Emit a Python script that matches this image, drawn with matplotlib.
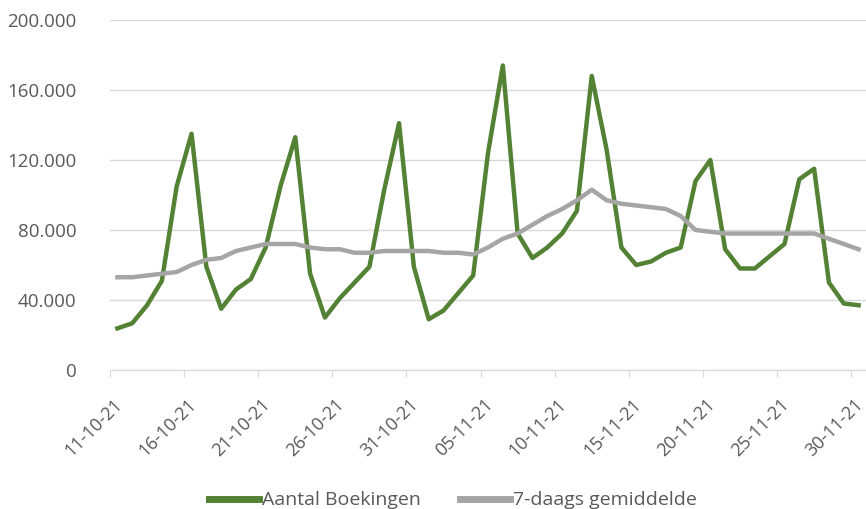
import matplotlib
matplotlib.use('Agg')
import matplotlib.pyplot as plt
from matplotlib.transforms import ScaledTranslation
import numpy as np

# Data: daily bookings 11-10-21 .. 30-11-21
dates = ['11-10-21', '12-10-21', '13-10-21', '14-10-21', '15-10-21', '16-10-21', '17-10-21',
         '18-10-21', '19-10-21', '20-10-21', '21-10-21', '22-10-21', '23-10-21', '24-10-21',
         '25-10-21', '26-10-21', '27-10-21', '28-10-21', '29-10-21', '30-10-21', '31-10-21',
         '01-11-21', '02-11-21', '03-11-21', '04-11-21', '05-11-21', '06-11-21', '07-11-21',
         '08-11-21', '09-11-21', '10-11-21', '11-11-21', '12-11-21', '13-11-21', '14-11-21',
         '15-11-21', '16-11-21', '17-11-21', '18-11-21', '19-11-21', '20-11-21', '21-11-21',
         '22-11-21', '23-11-21', '24-11-21', '25-11-21', '26-11-21', '27-11-21', '28-11-21',
         '29-11-21', '30-11-21']

boekingen = [23800, 26700, 37000, 51000, 105000, 135000, 59000,
             35000, 46000, 52000, 70000, 105000, 133000, 55000,
             30000, 41000, 50000, 59000, 103000, 141000, 59000,
             29000, 34000, 44000, 54000, 124000, 174000, 78000,
             64000, 70000, 78000, 91000, 168000, 126000, 70000,
             60000, 62000, 67000, 70000, 108000, 120000, 69000,
             58000, 58000, 65000, 72000, 109000, 115000, 50000,
             38000, 37000]

gemiddelde = [53000, 53000, 54000, 55000, 56000, 60000, 63000,
              64000, 68000, 70000, 72000, 72000, 72000, 70000,
              69000, 69000, 67000, 67000, 68000, 68000, 68000,
              68000, 67000, 67000, 66000, 70000, 75000, 78000,
              83000, 88000, 92000, 97000, 103000, 97000, 95000,
              94000, 93000, 92000, 88000, 80000, 79000, 78000,
              78000, 78000, 78000, 78000, 78000, 78000, 75000,
              72000, 69000]

yticks = [0, 40000, 80000, 120000, 160000, 200000]
ytick_labels = ['0', '40.000', '80.000', '120.000', '160.000', '200.000']

text_color = '#595959'
green = '#548235'
grey = '#A5A5A5'

plt.rcParams['font.family'] = ['Open Sans', 'DejaVu Sans']

fig = plt.figure(figsize=(8.66, 5.09), dpi=100)
ax = fig.add_axes([110 / 866, 1 - 370 / 509, 1 - 110 / 866, 350 / 509])

x = np.arange(len(dates)) + 0.5
ax.plot(x, boekingen, color=green, lw=3.2, label='Aantal Boekingen')
ax.plot(x, gemiddelde, color=grey, lw=3.2, label='7-daags gemiddelde')

ax.set_xlim(0, len(dates))
ax.set_ylim(0, 200000)

ax.set_yticks(yticks)
ax.set_yticklabels(ytick_labels)
ax.yaxis.grid(True, color='#D9D9D9', lw=1)
ax.set_axisbelow(True)

tick_pos = np.arange(0, len(dates), 5)
ax.set_xticks(tick_pos)
ax.set_xticklabels([dates[i] for i in tick_pos], rotation=45, ha='right',
                   rotation_mode='anchor')

for s in ['top', 'right', 'left']:
    ax.spines[s].set_visible(False)
ax.spines['bottom'].set_color('#D9D9D9')
ax.tick_params(axis='y', length=0, pad=24, labelsize=13.5, labelcolor=text_color)
ax.tick_params(axis='x', length=5, color='#D9D9D9', direction='out', pad=13,
               labelsize=13, labelcolor=text_color)

# shift rotated date labels a bit to the right
shift = ScaledTranslation(3 / 100, 0, fig.dpi_scale_trans)
for lbl in ax.get_xticklabels():
    lbl.set_transform(lbl.get_transform() + shift)

leg = fig.legend(loc='lower center', bbox_to_anchor=(0.523, -0.035), ncol=2, frameon=False,
                 fontsize=14, handlelength=2.6, handletextpad=0.15, columnspacing=2.0,
                 labelcolor=text_color)
for h in leg.get_lines():
    h.set_linewidth(5)

fig.savefig('out.png', dpi=100)
